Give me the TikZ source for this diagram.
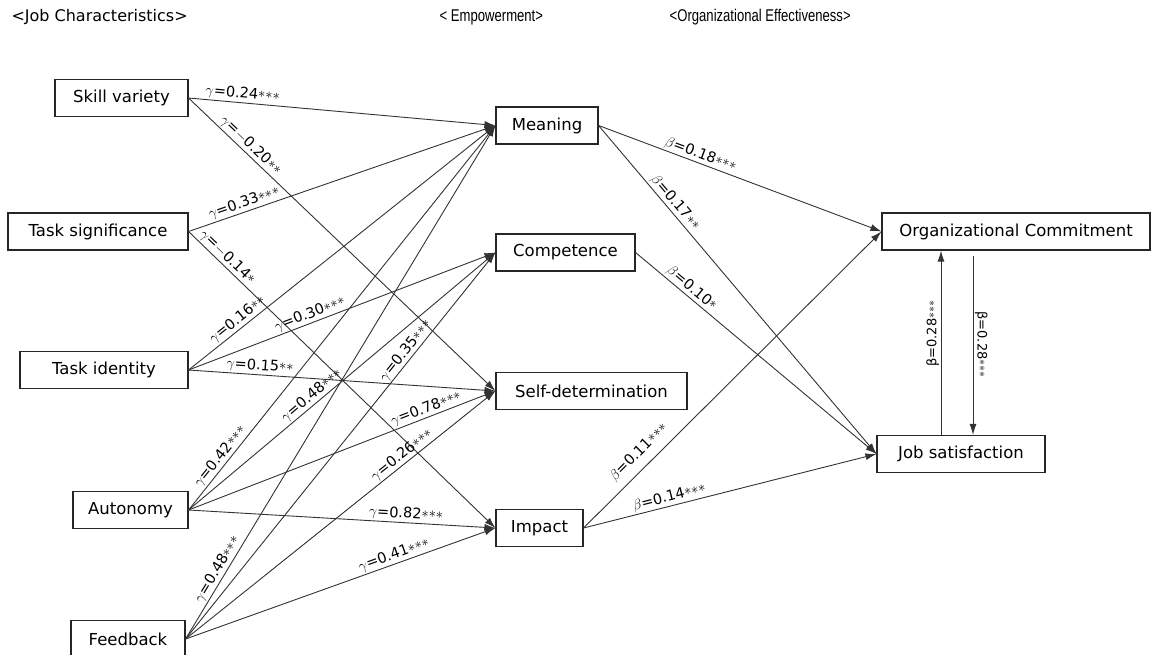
\documentclass[tikz,border=0pt]{standalone}
\usepackage{amsmath}
\usepackage{fontspec}
\setmainfont{DejaVu Sans}
\newfontfamily\narrowfont{Liberation Sans}
\usetikzlibrary{arrows.meta}

\newcommand{\st}{\raisebox{1.5pt}{$\ast$}}

\tikzset{
  box/.style={draw=black!85, line width=1.1pt, fill=white, inner sep=0pt,
    minimum height=37pt, font=\fontsize{16.5}{18}\selectfont},
  link/.style={line width=0.9pt, draw=black!80, -{Latex[length=11pt,width=7pt]}},
  coef/.style={font=\fontsize{14.5}{16}\selectfont, sloped, above, inner sep=1.5pt, pos=#1},
  heading/.style={anchor=west, xscale=0.77, transform shape, font=\narrowfont\fontsize{17}{19}\selectfont},
}

\begin{document}
\begin{tikzpicture}[x=1pt,y=-1pt]
    \useasboundingbox (0,0) rectangle (1151,655);

    % titles
    \node[anchor=west, font=\fontsize{16}{18}\selectfont] (tjob) at (8,17) {<Job Characteristics>};
    \node[heading] (temp) at (437,17) {< Empowerment>};
    \node[heading] (teff) at (667,17) {<Organizational Effectiveness>};

    % job characteristics
    \node[box, minimum width=133pt] (sv) at (121.5,98) {Skill variety};
    \node[box, minimum width=180pt] (ts) at (98,231.5) {Task significance};
    \node[box, minimum width=168pt] (ti) at (104,370) {Task identity};
    \node[box, minimum width=115pt] (au) at (130.5,510) {Autonomy};
    \node[box, minimum width=114pt] (fb) at (128,639) {Feedback};

    % empowerment
    \node[box, minimum width=102pt] (mea) at (547,125.5) {Meaning};
    \node[box, minimum width=139pt] (com) at (565.5,252.5) {Competence};
    \node[box, minimum width=191pt] (sd) at (591.5,391) {Self-determination};
    \node[box, minimum width=87pt] (imp) at (539.5,528) {Impact};

    % organizational effectiveness
    \node[box, minimum width=268pt] (oc) at (1016,231.5) {Organizational Commitment};
    \node[box, minimum width=168pt] (js) at (961,454) {Job satisfaction};
    \coordinate (upx) at (941,0);
    \coordinate (dnx) at (973,0);

    % gamma paths
    \draw[link] (sv.east) -- node[coef=0.174] {$\gamma$=0.24\st\st\st} (mea.west);
    \draw[link] (sv.east) -- node[coef=0.183] {$\gamma$=$-$0.20\st\st} (sd.west);
    \draw[link] (ts.east) -- node[coef=0.19] {$\gamma$=0.33\st\st\st} (mea.west);
    \draw[link] (ts.east) -- node[coef=0.107] {$\gamma$=$-$0.14\st} (imp.west);
    \draw[link] (ti.east) -- node[coef=0.177] {$\gamma$=0.16\st\st} (mea.west);
    \draw[link] (ti.east) -- node[coef=0.405] {$\gamma$=0.30\st\st\st} (com.west);
    \draw[link] (ti.east) -- node[coef=0.231] {$\gamma$=0.15\st\st} (sd.west);
    \draw[link] (au.east) -- node[coef=0.125] {$\gamma$=0.42\st\st\st} (mea.west);
    \draw[link] (au.east) -- node[coef=0.419] {$\gamma$=0.48\st\st\st} (com.west);
    \draw[link] (au.east) -- node[coef=0.784] {$\gamma$=0.78\st\st\st} (sd.west);
    \draw[link] (au.east) -- node[coef=0.707] {$\gamma$=0.82\st\st\st} (imp.west);
    \draw[link] (fb.east) -- node[coef=0.127] {$\gamma$=0.48\st\st\st} (mea.west);
    \draw[link] (fb.east) -- node[coef=0.732] {$\gamma$=0.35\st\st\st} (com.west);
    \draw[link] (fb.east) -- node[coef=0.715] {$\gamma$=0.26\st\st\st} (sd.west);
    \draw[link] (fb.east) -- node[coef=0.682] {$\gamma$=0.41\st\st\st} (imp.west);

    % beta paths
    \draw[link] (mea.east) -- node[coef=0.35] {$\beta$=0.18\st\st\st} (oc.west);
    \draw[link] (mea.east) -- node[coef=0.252] {$\beta$=0.17\st\st} (js.west);
    \draw[link] (com.east) -- node[coef=0.21] {$\beta$=0.10\st} (js.west);
    \draw[link] (imp.east) -- node[coef=0.22, above=6pt] {$\beta$=0.11\st\st\st} (oc.west);
    \draw[link] (imp.east) -- node[coef=0.30] {$\beta$=0.14\st\st\st} (js.west);

    % reciprocal
    \draw[link] (js.north -| upx) -- node[coef=0.55, font=\fontsize{13}{15}\selectfont] {β=0.28\st\st\st} (oc.south -| upx);
    \draw[link, shorten <=5pt] (oc.south -| dnx) -- node[coef=0.51, font=\fontsize{13}{15}\selectfont] {β=0.28\st\st\st} (js.north -| dnx);
\end{tikzpicture}
\end{document}
